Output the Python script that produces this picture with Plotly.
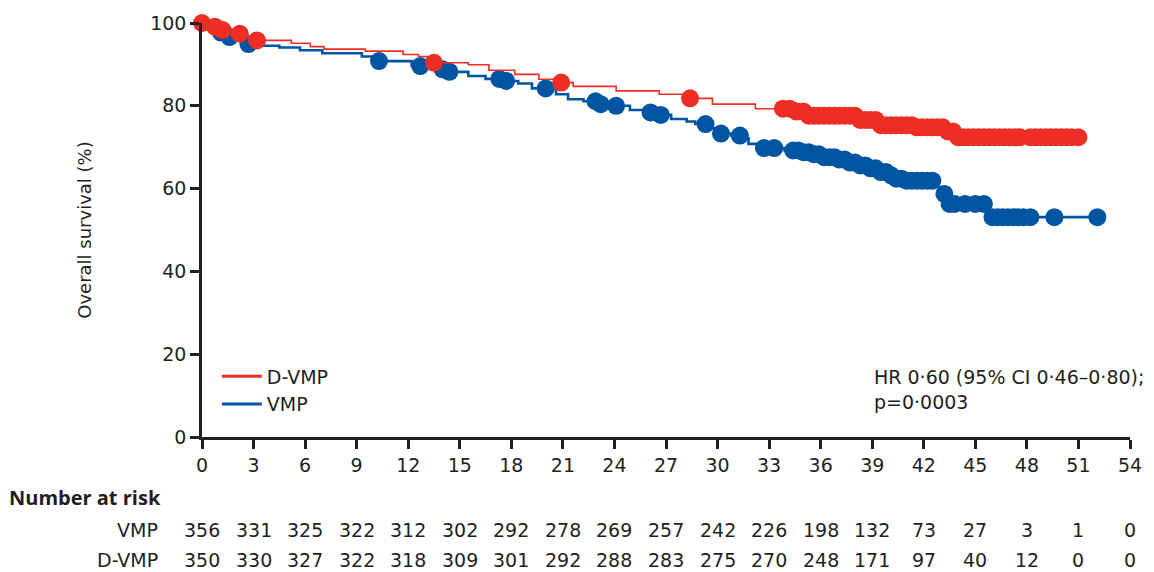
import numpy as np
import plotly.graph_objects as go

# Kaplan-Meier steps (months, % surviving)
dvmp_t = [0, 0.4, 0.9, 1.6, 2.5, 3.1, 5.2, 6.3, 7.1, 9.5, 11.7, 12.6, 13.1, 15.5, 16.7,
          18.2, 19.6, 20.5, 21.6, 24.1, 26.6, 28.0, 29.7, 32.2, 34.5, 35.2, 38.3, 39.5,
          41.6, 43.3, 43.8, 51.0]
dvmp_s = [100, 99.1, 98.3, 97.4, 96.6, 95.8, 95.1, 94.3, 93.7, 93.2, 92.4, 91.9, 90.4, 89.9, 88.6,
          87.6, 86.4, 85.6, 84.7, 83.6, 82.8, 81.8, 80.4, 79.3, 78.6, 77.6, 76.6, 75.3,
          74.8, 73.8, 72.4, 72.4]

vmp_t = [0, 0.2, 0.6, 1.2, 2.0, 2.6, 3.3, 4.5, 5.7, 7.0, 9.3, 10.0, 12.2, 13.5, 14.3, 15.5,
         16.5, 17.6, 18.4, 19.2, 20.6, 21.3, 22.2, 23.2, 24.1, 24.9, 25.8, 26.7, 27.3, 28.2,
         28.7, 29.5, 30.0, 30.8, 31.4, 31.8, 32.3, 33.9, 34.8, 35.4, 36.2, 37.0, 37.7, 38.3,
         38.8, 39.4, 39.9, 40.4, 40.8, 42.6, 43.0, 43.5, 45.8, 52.2]
vmp_s = [100, 98.5, 97.7, 96.6, 95.7, 94.9, 94.5, 94.1, 93.4, 92.7, 91.9, 90.8, 89.6, 88.8, 88.2, 87.2,
         86.5, 86.0, 85.4, 84.2, 82.8, 81.6, 81.1, 80.4, 80.0, 79.0, 78.4, 77.8, 76.8, 76.2,
         75.6, 74.6, 73.3, 72.8, 72.2, 70.8, 69.8, 69.2, 68.8, 68.3, 67.6, 67.0, 66.3, 65.6,
         64.9, 64.0, 63.2, 62.4, 61.9, 60.4, 58.7, 56.3, 53.1, 53.1]

# censored observations (months)
dvmp_cens = [0.0, 0.75, 1.2, 2.2, 3.2, 13.5, 20.9, 28.4, 33.8, 34.2, 34.6, 35.0, 35.3, 35.6,
             35.9, 36.2, 36.5, 36.8, 37.1, 37.4, 37.7, 38.0, 38.3, 38.6, 38.9, 39.2, 39.5, 39.8,
             40.1, 40.4, 40.7, 41.0, 41.3, 41.6, 41.9, 42.2, 42.5, 42.8, 43.1, 43.4, 43.7, 44.0,
             44.3, 44.6, 44.9, 45.2, 45.5, 45.8, 46.1, 46.4, 46.7, 47.0, 47.3, 47.6, 48.2, 48.5,
             48.8, 49.1, 49.4, 49.7, 50.0, 50.3, 50.6, 51.0]
vmp_cens = [1.1, 1.6, 2.7, 10.3, 12.7, 14.0, 14.4, 17.3, 17.7, 20.0, 22.9, 23.2, 24.1, 26.1,
            26.7, 29.3, 30.2, 31.3, 32.7, 33.3, 34.4, 34.7, 35.0, 35.3, 35.6, 35.9, 36.2, 36.5,
            36.8, 37.1, 37.4, 37.7, 38.0, 38.3, 38.6, 38.9, 39.2, 39.5, 39.8, 40.1, 40.4, 40.7,
            41.0, 41.3, 41.6, 41.9, 42.2, 42.5, 43.2, 43.5, 43.8, 44.4, 45.0, 45.5, 46.0, 46.3,
            46.6, 46.9, 47.2, 47.5, 47.8, 48.2, 49.6, 52.1]

risk_months = [0, 3, 6, 9, 12, 15, 18, 21, 24, 27, 30, 33, 36, 39, 42, 45, 48, 51, 54]
risk_vmp = [356, 331, 325, 322, 312, 302, 292, 278, 269, 257, 242, 226, 198, 132, 73, 27, 3, 1, 0]
risk_dvmp = [350, 330, 327, 322, 318, 309, 301, 292, 288, 283, 275, 270, 248, 171, 97, 40, 12, 0, 0]

RED = "#ee2e24"
BLUE = "#0055a2"
INK = "#231f20"
FONT = "DejaVu Sans"


def step_value(times, surv, at):
    """Survival of the step curve at the given times."""
    idx = np.searchsorted(times, at, side="right") - 1
    return np.asarray(surv)[idx]


fig = go.Figure()

for name, t, s, cens, color, width in [
    ("VMP", vmp_t, vmp_s, vmp_cens, BLUE, 2.6),
    ("D-VMP", dvmp_t, dvmp_s, dvmp_cens, RED, 1.6),
]:
    fig.add_trace(go.Scatter(
        x=t, y=s, mode="lines", name=name,
        line=dict(color=color, width=width, shape="hv"),
        cliponaxis=False, showlegend=False,
    ))
    fig.add_trace(go.Scatter(
        x=cens, y=step_value(t, s, cens), mode="markers",
        marker=dict(color=color, size=18, line=dict(width=0)),
        cliponaxis=False, showlegend=False,
    ))

# legend entries, D-VMP first
for name, color in [("D-VMP", RED), ("VMP", BLUE)]:
    fig.add_trace(go.Scatter(
        x=[None], y=[None], mode="lines", name=name,
        line=dict(color=color, width=3),
    ))

annotations = [
    dict(text="HR 0·60 (95% CI 0·46–0·80);<br>p=0·0003", xref="paper", yref="paper",
         x=0.722, y=0.176, xanchor="left", yanchor="top", align="left",
         showarrow=False, font=dict(size=19, color=INK)),
    dict(text="<b>Number at risk</b>", xref="paper", yref="paper", x=-0.21, y=-0.147,
         xanchor="left", yanchor="middle", showarrow=False,
         font=dict(family="Open Sans", size=20, color=INK)),
]
for label, row, ypos in [("VMP", risk_vmp, -0.224), ("D-VMP", risk_dvmp, -0.296)]:
    annotations.append(dict(text=label, xref="paper", yref="paper", x=-0.045, y=ypos,
                            xanchor="right", yanchor="middle", showarrow=False,
                            font=dict(size=19, color=INK)))
    for m, n in zip(risk_months, row):
        annotations.append(dict(text=str(n), xref="x", yref="paper", x=m, y=ypos,
                                xanchor="center", yanchor="middle", showarrow=False,
                                font=dict(size=19, color=INK)))

fig.update_layout(
    width=1154, height=572,
    margin=dict(l=202, r=20, t=22, b=135),
    paper_bgcolor="white", plot_bgcolor="white",
    font=dict(family=FONT, size=18, color=INK),
    showlegend=True,
    legend=dict(x=0.016, y=0.192, xanchor="left", yanchor="top",
                font=dict(size=19, color=INK), bgcolor="rgba(0,0,0,0)",
                tracegroupgap=0, itemwidth=40),
    annotations=annotations,
    xaxis=dict(range=[0, 54], tickvals=risk_months, showgrid=False, zeroline=False,
               showline=True, linecolor=INK, linewidth=2.5,
               ticks="outside", ticklen=9, tickwidth=2.5, tickcolor=INK,
               tickfont=dict(size=19, color=INK)),
    yaxis=dict(range=[0, 100], tickvals=[0, 20, 40, 60, 80, 100], showgrid=False,
               zeroline=False, showline=True, linecolor=INK, linewidth=2.5,
               ticks="outside", ticklen=9, tickwidth=2.5, tickcolor=INK,
               tickfont=dict(size=19, color=INK),
               title=dict(text="Overall survival (%)", font=dict(size=18, color=INK),
                          standoff=54)),
)

# drop the browser's default 8px body margin so the 1154x572 figure fills the window
fig.write_html("out.html", config={"displayModeBar": False},
               post_script="document.body.style.margin = '0';")
